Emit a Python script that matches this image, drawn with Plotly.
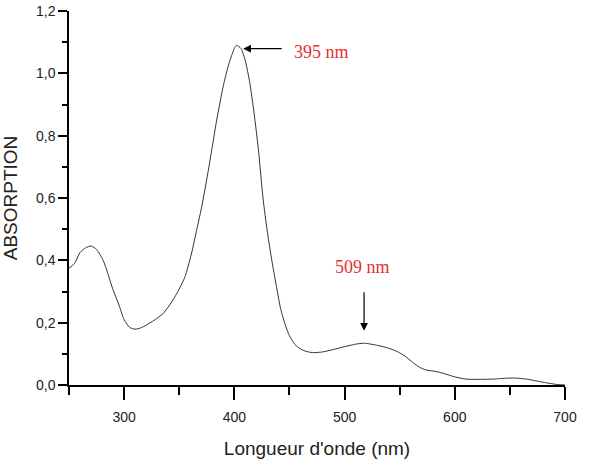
import plotly.graph_objects as go

wavelength = [250, 255, 260, 265, 270, 275, 281, 285, 290, 295, 300, 305, 310, 315, 320, 327, 335, 342,
              348, 355, 361, 366, 370, 375, 380, 384, 390, 395, 400, 402, 406, 410, 414, 418, 422, 426, 430,
              434, 438, 442, 446, 450, 455, 460, 465, 471, 480, 490, 500, 510, 518, 530, 540, 548, 555,
              562, 568, 574, 582, 590, 600, 610, 620, 635, 648, 656, 665, 680, 692, 700]
absorbance = [0.375, 0.39, 0.425, 0.44, 0.446, 0.435, 0.40, 0.36, 0.305, 0.26, 0.21, 0.185, 0.179, 0.183, 0.192,
              0.207, 0.228, 0.26, 0.295, 0.345, 0.42, 0.50, 0.565, 0.66, 0.765, 0.85, 0.96, 1.03, 1.08, 1.09, 1.08,
              1.04, 0.97, 0.87, 0.75, 0.60, 0.49, 0.40, 0.32, 0.245, 0.195, 0.158, 0.13, 0.116, 0.108,
              0.104, 0.106, 0.114, 0.123, 0.131, 0.134, 0.127, 0.118, 0.107, 0.092, 0.072, 0.057, 0.048,
              0.044, 0.037, 0.026, 0.019, 0.018, 0.019, 0.022, 0.022, 0.019, 0.009, 0.002, 0.0]

x_ticks = [300, 400, 500, 600, 700]
y_ticks = [0.0, 0.2, 0.4, 0.6, 0.8, 1.0, 1.2]
peak_labels = ["395 nm", "509 nm"]

fig = go.Figure()
fig.add_trace(go.Scatter(x=wavelength, y=absorbance, mode="lines",
                         line=dict(color="#333333", width=1, shape="spline", smoothing=0.6),
                         showlegend=False, hoverinfo="skip"))

axis_font = dict(family="Liberation Sans, Arial, sans-serif", size=14, color="#222222")
title_font = dict(family="Liberation Sans, Arial, sans-serif", size=19, color="#222222")

fig.update_layout(
    width=601, height=468,
    margin=dict(l=69, r=36, t=11, b=83),
    paper_bgcolor="white", plot_bgcolor="white",
    separators=", ",
    xaxis=dict(range=[250, 700], tickvals=x_ticks, ticks="outside", ticklen=13, tickwidth=1.5,
               tickcolor="black", showline=True, linecolor="black", linewidth=1.5, showgrid=False,
               zeroline=False, tickfont=axis_font, ticklabelstandoff=5, automargin=False,
               minor=dict(dtick=50, tick0=250, ticks="outside", ticklen=8, tickwidth=1.5, tickcolor="black", showgrid=False),
               title=dict(text="Longueur d'onde (nm)", font=title_font, standoff=18)),
    yaxis=dict(range=[0, 1.2], tickvals=y_ticks, tickformat=".1f", ticks="outside", ticklen=9,
               tickwidth=1.5, tickcolor="black", showline=True, linecolor="black", linewidth=1.5,
               showgrid=False, zeroline=False, tickfont=axis_font, automargin=False,
               minor=dict(dtick=0.1, tick0=0, ticks="outside", ticklen=5, tickwidth=1.5, tickcolor="black", showgrid=False),
               title=dict(text="ABSORPTION", font=title_font, standoff=16)),
)

red_font = dict(family="Liberation Serif, Times New Roman, serif", size=18, color="#e53030")
fig.add_annotation(x=408, y=1.079, ax=40, ay=0, text="", showarrow=True, arrowhead=2,
                   arrowsize=1.3, arrowwidth=1.2, arrowcolor="black")
fig.add_annotation(x=479, y=1.068, text=peak_labels[0], showarrow=False, font=red_font)
fig.add_annotation(x=517.7, y=0.174, ax=0, ay=-40, text="", showarrow=True, arrowhead=2,
                   arrowsize=1.3, arrowwidth=1.2, arrowcolor="black")
fig.add_annotation(x=516, y=0.379, text=peak_labels[1], showarrow=False, font=red_font)

fig.write_html("out.html")
